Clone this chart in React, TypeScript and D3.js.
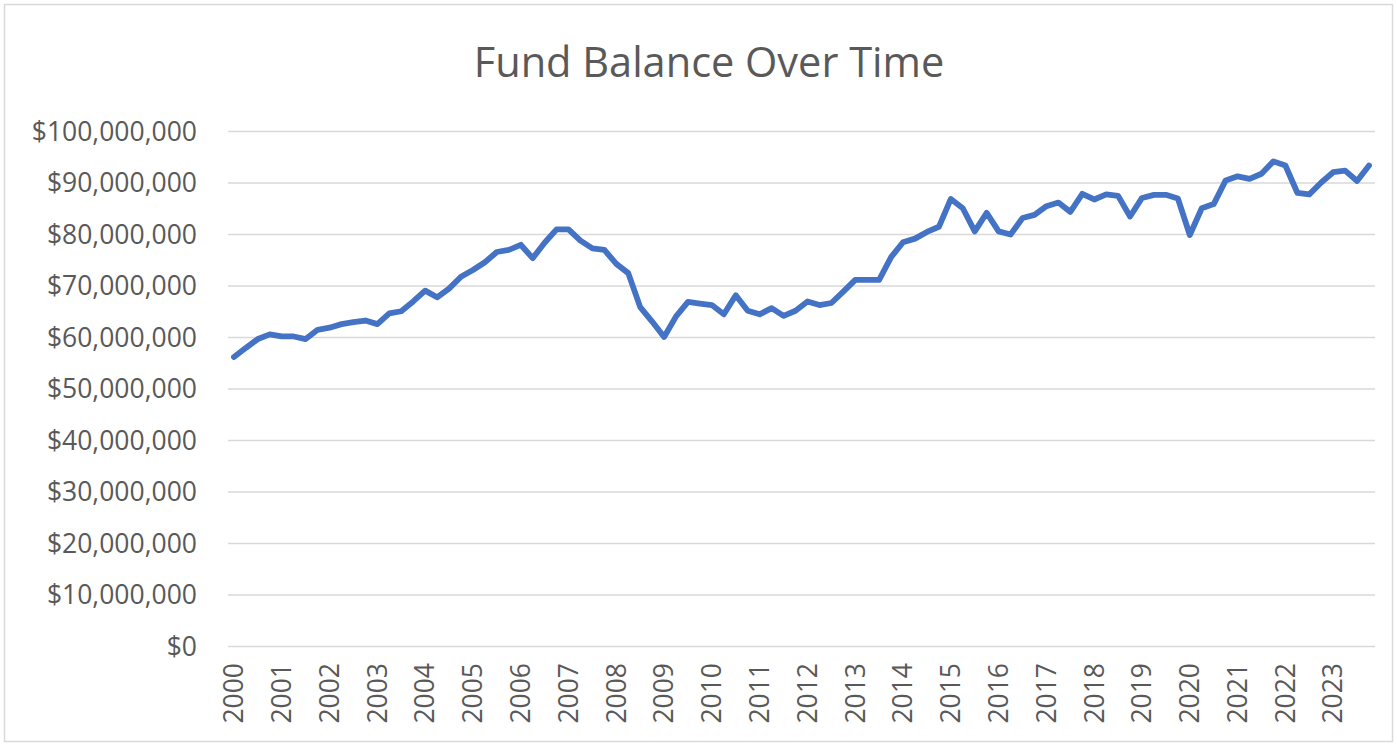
import React from "react";
import * as d3 from "d3";

const title = "Fund Balance Over Time";
const years = [2000, 2001, 2002, 2003, 2004, 2005, 2006, 2007, 2008, 2009, 2010, 2011, 2012, 2013, 2014, 2015, 2016, 2017, 2018, 2019, 2020, 2021, 2022, 2023];
const quarters = ["Q1", "Q2", "Q3", "Q4"];
// Quarterly fund balance, in millions of dollars
const balanceMillions = [
  56.2, 58.0, 59.7, 60.6, 60.2, 60.2, 59.7, 61.5,
  61.9, 62.6, 63.0, 63.3, 62.6, 64.7, 65.1, 67.0,
  69.1, 67.8, 69.5, 71.8, 73.1, 74.6, 76.6, 77.0,
  78.0, 75.4, 78.4, 81.0, 81.0, 78.8, 77.3, 77.0,
  74.3, 72.5, 65.9, 63.1, 60.1, 64.1, 66.9, 66.6,
  66.3, 64.5, 68.2, 65.2, 64.5, 65.7, 64.2, 65.2,
  67.0, 66.3, 66.7, 68.9, 71.2, 71.2, 71.2, 75.6,
  78.5, 79.2, 80.5, 81.5, 86.9, 85.1, 80.6, 84.2,
  80.6, 80.0, 83.2, 83.8, 85.5, 86.2, 84.4, 87.9,
  86.8, 87.8, 87.5, 83.5, 87.1, 87.7, 87.7, 87.0,
  79.9, 85.1, 85.9, 90.5, 91.3, 90.8, 91.8, 94.2,
  93.4, 88.1, 87.8, 90.1, 92.1, 92.4, 90.4, 93.4,
];
const yTicks = [0, 10e6, 20e6, 30e6, 40e6, 50e6, 60e6, 70e6, 80e6, 90e6, 100e6];

const W = 1397;
const H = 746;
const FONT = "'Open Sans', 'Liberation Sans', sans-serif";
const TEXT = "#595959";
const GRID = "#d9d9d9";
const LINE = "#4472C4";

export default function App() {
  const categories = years.flatMap((yr) => quarters.map((q) => `${yr} ${q}`));
  const x = d3.scaleBand<string>().domain(categories).range([228, 1375]);
  const y = d3.scaleLinear().domain([0, 100e6]).range([646.5, 131.5]);
  const cx = (c: string) => (x(c) as number) + x.bandwidth() / 2;
  const fmt = d3.format("$,.0f");
  const path = d3
    .line<number>()
    .x((_, i) => cx(categories[i]))
    .y((d) => y(d * 1e6))(balanceMillions);

  return (
    <svg
      width={W}
      height={H}
      style={{ position: "absolute", left: 0, top: 0, background: "#fff" }}
      fontFamily={FONT}
    >
      <rect x={4.5} y={4.5} width={W - 9} height={H - 9} fill="#fff" stroke={GRID} strokeWidth={1.5} />
      <text x={709} y={77} textAnchor="middle" fontSize={41.5} fill={TEXT}>
        {title}
      </text>
      {yTicks.map((t) => (
        <g key={t}>
          <line x1={228} x2={1375} y1={y(t)} y2={y(t)} stroke={GRID} strokeWidth={1.4} />
          <text x={197} y={y(t)} dy="0.35em" textAnchor="end" fontSize={26.5} fill={TEXT}>
            {fmt(t)}
          </text>
        </g>
      ))}
      {years.map((yr) => {
        const c = `${yr} Q1`;
        const px = cx(c);
        return (
          <text
            key={yr}
            transform={`translate(${px},663) rotate(-90)`}
            dy="0.35em"
            textAnchor="end"
            fontSize={26.5}
            fill={TEXT}
          >
            {yr}
          </text>
        );
      })}
      <path d={path || ""} fill="none" stroke={LINE} strokeWidth={5.8} strokeLinejoin="round" strokeLinecap="round" />
    </svg>
  );
}
